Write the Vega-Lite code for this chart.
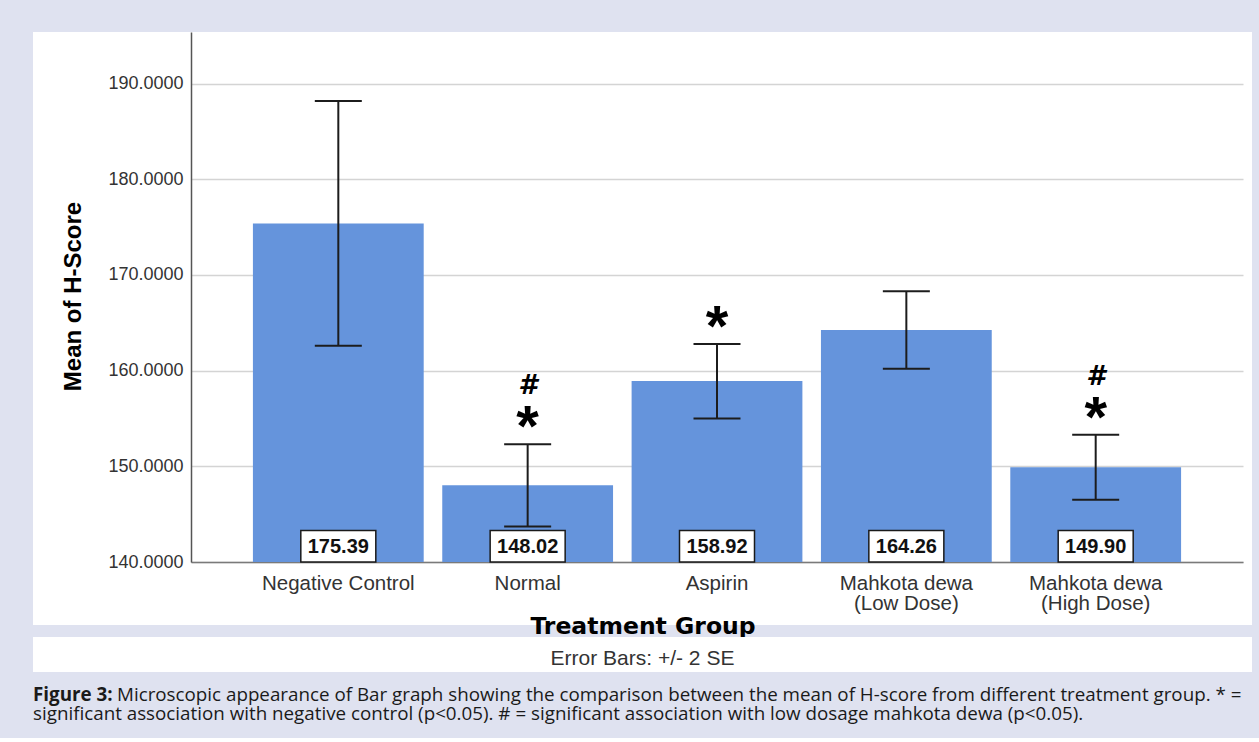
{
  "$schema": "https://vega.github.io/schema/vega-lite/v6.json",
  "background": "#dfe2f0",
  "padding": {"left": 33, "top": 28, "right": 7, "bottom": 0},
  "bounds": "flush",
  "spacing": 12,
  "config": {"view": {"stroke": null}},
  "datasets": {
    "groups": [
      {"group": "Negative Control", "mean": 175.39, "lower": 162.6, "upper": 188.2, "sig_neg": "", "sig_low": ""},
      {"group": "Normal", "mean": 148.02, "lower": 143.7, "upper": 152.3, "sig_neg": "*", "sig_low": "#"},
      {"group": "Aspirin", "mean": 158.92, "lower": 155.0, "upper": 162.8, "sig_neg": "*", "sig_low": ""},
      {"group": "Mahkota dewa (Low Dose)", "mean": 164.26, "lower": 160.2, "upper": 168.3, "sig_neg": "", "sig_low": ""},
      {"group": "Mahkota dewa (High Dose)", "mean": 149.90, "lower": 146.5, "upper": 153.3, "sig_neg": "*", "sig_low": "#"}
    ]
  },
  "vconcat": [
    {
      "width": 1219,
      "height": 593,
      "view": {"fill": "#ffffff", "stroke": null},
      "data": {"name": "groups"},
      "encoding": {
        "x": {
          "field": "group",
          "type": "nominal",
          "sort": null,
          "scale": {"range": [158, 1210], "paddingInner": 0.098, "paddingOuter": 0.327},
          "axis": {
            "title": "Treatment Group",
            "titleFont": "DejaVu Sans",
            "titleFontWeight": "bold",
            "titleFontSize": 23.5,
            "titleColor": "#000000",
            "titleX": 609.5,
            "titleY": 71,
            "titleBaseline": "alphabetic",
            "titleAlign": "center",
            "offset": -63,
            "ticks": false,
            "domainColor": "#7a7a7a",
            "domainWidth": 1.5,
            "labelAngle": 0,
            "labelFont": "Liberation Sans",
            "labelFontSize": 20.5,
            "labelColor": "#333333",
            "labelPadding": 11,
            "labelLineHeight": 20,
            "labelBaseline": "top",
            "labelExpr": "split(replace(datum.label, ' (', '|('), '|')"
          }
        }
      },
      "layer": [
        {
          "mark": {"type": "bar", "color": "#6594dc"},
          "encoding": {
            "y": {
              "field": "mean",
              "type": "quantitative",
              "scale": {"domain": [140, 195.4], "range": [530, 0], "zero": false, "nice": false},
              "axis": {
                "title": "Mean of H-Score",
                "titleFont": "Liberation Sans",
                "titleFontWeight": "bold",
                "titleFontSize": 24,
                "titleColor": "#000000",
                "titleAngle": 270,
                "titleX": -111,
                "titleY": 264,
                "titleBaseline": "alphabetic",
                "titleAlign": "center",
                "offset": -158,
                "values": [140, 150, 160, 170, 180, 190],
                "format": ".4f",
                "ticks": false,
                "labelFont": "Liberation Sans",
                "labelFontSize": 18,
                "labelColor": "#333333",
                "labelPadding": 8,
                "domainColor": "#555555",
                "domainWidth": 1.5,
                "grid": true,
                "gridColor": "#d4d4d4",
                "gridWidth": 1.5
              }
            },
            "y2": {"datum": 140}
          }
        },
        {
          "mark": {"type": "rule", "color": "#1c1c1c", "strokeWidth": 2},
          "encoding": {
            "y": {"field": "lower", "type": "quantitative"},
            "y2": {"field": "upper"}
          }
        },
        {
          "mark": {"type": "tick", "color": "#1c1c1c", "size": 47, "thickness": 2, "opacity": 1},
          "encoding": {"y": {"field": "upper", "type": "quantitative"}}
        },
        {
          "mark": {"type": "tick", "color": "#1c1c1c", "size": 47, "thickness": 2, "opacity": 1},
          "encoding": {"y": {"field": "lower", "type": "quantitative"}}
        },
        {
          "mark": {"type": "bar", "width": 75, "fill": "#ffffff", "stroke": "#1a1a1a", "strokeWidth": 1.5},
          "encoding": {
            "y": {"datum": 140, "type": "quantitative"},
            "y2": {"datum": 143.3}
          }
        },
        {
          "mark": {"type": "text", "font": "Liberation Sans", "fontWeight": "bold", "fontSize": 20, "color": "#111111", "baseline": "alphabetic", "align": "center"},
          "encoding": {
            "y": {"datum": 140.9, "type": "quantitative"},
            "text": {"field": "mean", "type": "quantitative", "format": ".2f"}
          }
        },
        {
          "mark": {"type": "text", "font": "Liberation Sans", "fontWeight": "bold", "fontSize": 58, "color": "#000000", "baseline": "alphabetic", "align": "center", "dy": 2},
          "encoding": {
            "y": {"field": "upper", "type": "quantitative"},
            "text": {"field": "sig_neg"}
          }
        },
        {
          "mark": {"type": "text", "font": "DejaVu Sans", "fontWeight": "bold", "fontStyle": "italic", "fontSize": 27, "color": "#000000", "baseline": "alphabetic", "align": "center", "dy": -50},
          "encoding": {
            "y": {"field": "upper", "type": "quantitative"},
            "text": {"field": "sig_low"}
          }
        }
      ]
    },
    {
      "width": 1219,
      "height": 35,
      "view": {"fill": "#ffffff", "stroke": null},
      "data": {"values": [{"note": "Error Bars: +/- 2 SE"}]},
      "mark": {"type": "text", "font": "Liberation Sans", "fontSize": 21, "color": "#333333", "align": "center", "baseline": "alphabetic", "dy": 10.5},
      "encoding": {"text": {"field": "note"}}
    },
    {
      "width": 1219,
      "height": 54,
      "view": {"stroke": null},
      "layer": [
        {
          "data": {"values": [{"t": "Figure 3:"}]},
          "mark": {"type": "text", "font": "Open Sans", "fontWeight": "bold", "fontSize": 18.8, "color": "#1a1a1a", "align": "left", "baseline": "alphabetic", "dy": -2.5},
          "encoding": {
            "x": {"datum": 0, "type": "quantitative", "scale": {"domain": [0, 1]}, "axis": null},
            "y": {"datum": 1, "type": "quantitative", "scale": {"domain": [0, 2.7], "reverse": true}, "axis": null},
            "text": {"field": "t"}
          }
        },
        {
          "data": {"values": [{"t": "Microscopic appearance of Bar graph showing the comparison between the mean of H-score from different treatment group. * ="}]},
          "mark": {"type": "text", "font": "Open Sans", "fontSize": 18.8, "color": "#1a1a1a", "align": "left", "baseline": "alphabetic", "dx": 84, "dy": -2.5},
          "encoding": {
            "x": {"datum": 0, "type": "quantitative"},
            "y": {"datum": 1, "type": "quantitative"},
            "text": {"field": "t"}
          }
        },
        {
          "data": {"values": [{"t": "significant association with negative control (p<0.05). # = significant association with low dosage mahkota dewa (p<0.05)."}]},
          "mark": {"type": "text", "font": "Open Sans", "fontSize": 18.8, "color": "#1a1a1a", "align": "left", "baseline": "alphabetic", "dy": -2.5},
          "encoding": {
            "x": {"datum": 0, "type": "quantitative"},
            "y": {"datum": 2, "type": "quantitative"},
            "text": {"field": "t"}
          }
        }
      ]
    }
  ]
}
